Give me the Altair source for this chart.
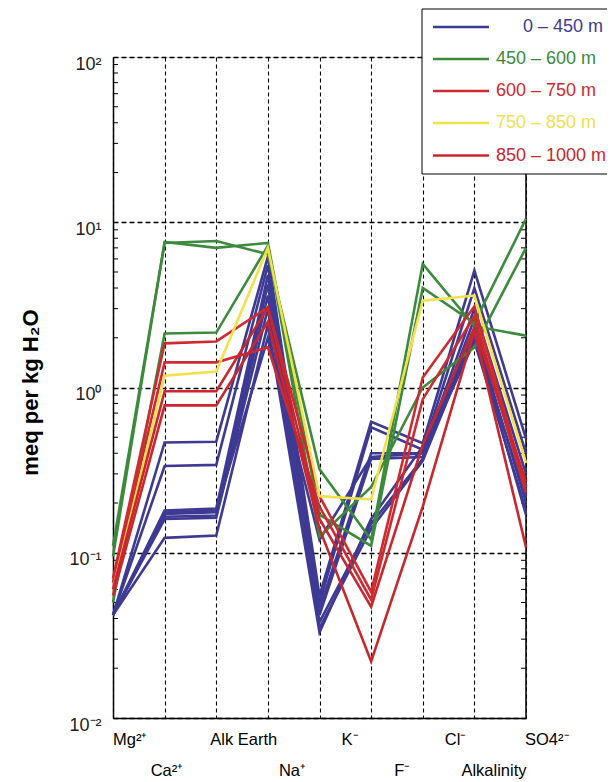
import altair as alt
import pandas as pd

categories = ["Mg", "Ca", "AlkEarth", "Na", "K", "F", "Cl", "Alk", "SO4"]

# 0 - 450 m (blue)
blue_1 = [0.042, 0.465, 0.47, 6.2, 0.055, 0.62, 0.46, 5.1, 0.49]
blue_2 = [0.042, 0.335, 0.34, 5.5, 0.050, 0.575, 0.42, 4.0, 0.40]
blue_3 = [0.042, 0.180, 0.185, 4.8, 0.046, 0.40, 0.40, 3.0, 0.30]
blue_4 = [0.042, 0.172, 0.176, 4.2, 0.042, 0.37, 0.38, 2.6, 0.24]
blue_5 = [0.042, 0.165, 0.168, 3.6, 0.038, 0.15, 0.37, 2.3, 0.20]
blue_6 = [0.042, 0.160, 0.163, 3.0, 0.035, 0.14, 0.36, 2.1, 0.17]
blue_7 = [0.042, 0.123, 0.127, 2.4, 0.033, 0.16, 0.44, 2.0, 0.22]
blue_8 = [0.042, 0.175, 0.180, 2.0, 0.120, 0.38, 0.40, 1.9, 0.18]

# 450 - 600 m (green)
green_1 = [0.11, 7.5, 7.7, 6.4, 0.32, 0.12, 5.6, 2.35, 2.06]
green_2 = [0.095, 7.6, 7.0, 7.5, 0.17, 0.11, 4.0, 2.45, 10.5]
green_3 = [0.05, 2.12, 2.15, 7.2, 0.125, 0.25, 1.0, 1.75, 7.0]

# 600 - 750 m (red)
red_1 = [0.07, 1.85, 1.9, 3.05, 0.22, 0.058, 1.15, 3.1, 0.25]
red_2 = [0.066, 1.42, 1.42, 1.75, 0.19, 0.052, 0.85, 2.7, 0.23]

# 750 - 850 m (yellow)
yellow_1 = [0.06, 1.18, 1.25, 7.0, 0.22, 0.21, 3.35, 3.6, 0.35]

# 850 - 1000 m (red)
red_3 = [0.06, 0.95, 0.95, 3.05, 0.16, 0.047, 0.45, 2.3, 0.27]
red_4 = [0.055, 0.78, 0.78, 2.5, 0.14, 0.022, 0.19, 2.2, 0.108]

groups = ["0 – 450 m", "450 – 600 m", "600 – 750 m", "750 – 850 m", "850 – 1000 m"]
group_colors = ["#3e3a94", "#3c8a3c", "#cf2a30", "#f3e04a", "#c9262d"]
group_lines = [
    [blue_1, blue_2, blue_3, blue_4, blue_5, blue_6, blue_7, blue_8],
    [green_1, green_2, green_3],
    [red_1, red_2],
    [yellow_1],
    [red_3, red_4],
]

row1_labels = ["Mg²⁺", "Alk Earth", "K⁻", "Cl⁻", "SO4²⁻"]
row1_cats = ["Mg", "AlkEarth", "K", "Cl", "SO4"]
row2_labels = ["Ca²⁺", "Na⁺", "F⁻", "Alkalinity"]
row2_cats = ["Ca", "Na", "F", "Alk"]

W, H = 413, 661
FONT = "Liberation Sans"

xscale = alt.Scale(domain=categories, type="point", padding=0)
yscale = alt.Scale(type="log", domain=[0.01, 100], nice=False)

label_expr = ("datum.value > 50 ? '10²' : datum.value > 5 ? '10¹' : datum.value > 0.5 ? '10⁰' : "
              "datum.value > 0.05 ? '10⁻¹' : '10⁻²'")

x_axis = alt.Axis(grid=True, gridDash=[4, 3], gridColor="black", gridWidth=1.1,
                  labels=False, ticks=False, title=None, domainColor="black", domainWidth=1.5)
y_axis = alt.Axis(values=[0.01, 0.1, 1, 10, 100], grid=True, gridDash=[5, 3], gridColor="black",
                  gridWidth=1.3, ticks=False, labelExpr=label_expr, labelFont=FONT, labelFontSize=18,
                  labelColor="#222", labelPadding=12, labelOffset=7, labelBaseline="middle",
                  domainColor="black", domainWidth=1.5,
                  title="meq per kg H₂O", titleFont=FONT, titleFontSize=22, titleFontWeight="bold",
                  titleColor="black", titleAngle=-90, titleX=-83, titleY=335,
                  titleAlign="center", titleBaseline="middle")

layers = []

# base axes layer (invisible)
base_df = pd.DataFrame({"cat": categories, "value": blue_1})
layers.append(alt.Chart(base_df).mark_point(opacity=0).encode(
    x=alt.X("cat:N", scale=xscale, axis=x_axis, sort=categories),
    y=alt.Y("value:Q", scale=yscale, axis=y_axis),
))

# minor ticks on left and right
tick_vals = []
for d in [0.01, 0.1, 1, 10]:
    for m in range(2, 10):
        tick_vals.append(d * m)
tick_df = pd.DataFrame({"value": tick_vals})
layers.append(alt.Chart(tick_df).mark_rule(color="black", strokeWidth=1).encode(
    y=alt.Y("value:Q", scale=yscale), x=alt.value(0), x2=alt.value(5)))
layers.append(alt.Chart(tick_df).mark_rule(color="black", strokeWidth=1).encode(
    y=alt.Y("value:Q", scale=yscale), x=alt.value(W - 5), x2=alt.value(W)))

# right border
layers.append(alt.Chart(pd.DataFrame({"a": [0]})).mark_rule(color="black", strokeWidth=1.5).encode(
    x=alt.value(W), y=alt.value(0), y2=alt.value(H)))

# data lines
for gi in range(len(groups)):
    rows = []
    for li, vals in enumerate(group_lines[gi]):
        for c, v in zip(categories, vals):
            rows.append({"cat": c, "value": v, "line": f"{gi}_{li}"})
    df = pd.DataFrame(rows)
    layers.append(alt.Chart(df).mark_line(strokeWidth=2.6, color=group_colors[gi],
                                          strokeJoin="miter").encode(
        x=alt.X("cat:N", scale=xscale, sort=categories),
        y=alt.Y("value:Q", scale=yscale),
        detail="line:N",
    ))

# x labels (two rows)
row1_dx = [0, -6, 22, 22, -1]
row2_dx = [-14, 11, 23, -13]
for lab, cat, dx in zip(row1_labels, row1_cats, row1_dx):
    layers.append(alt.Chart(pd.DataFrame({"cat": [cat], "t": [lab]})).mark_text(
        align="left", baseline="middle", font=FONT, fontSize=16.5, color="black", dx=dx).encode(
        x=alt.X("cat:N", scale=xscale, sort=categories), y=alt.value(H + 22), text="t:N"))
for lab, cat, dx in zip(row2_labels, row2_cats, row2_dx):
    layers.append(alt.Chart(pd.DataFrame({"cat": [cat], "t": [lab]})).mark_text(
        align="left", baseline="middle", font=FONT, fontSize=16.5, color="black", dx=dx).encode(
        x=alt.X("cat:N", scale=xscale, sort=categories), y=alt.value(H + 53), text="t:N"))

# legend box
one = pd.DataFrame({"a": [0]})
layers.append(alt.Chart(one).mark_rect(fill="white", stroke="black", strokeWidth=1).encode(
    x=alt.value(309), x2=alt.value(501), y=alt.value(-48), y2=alt.value(117)))
legend_y = [-30, 2, 34, 66, 98.5]
legend_tx = [410, 383, 383, 383, 383]
for g, col, ly, tx in zip(groups, group_colors, legend_y, legend_tx):
    layers.append(alt.Chart(one).mark_rule(color=col, strokeWidth=2.6).encode(
        x=alt.value(320), x2=alt.value(376), y=alt.value(ly)))
    layers.append(alt.Chart(pd.DataFrame({"t": [g]})).mark_text(
        align="left", baseline="middle", font=FONT, fontSize=18, color=col).encode(
        x=alt.value(tx), y=alt.value(ly), text="t:N"))

chart = alt.layer(*layers).properties(
    width=W, height=H,
    autosize=alt.AutoSizeParams(type="none"),
    padding={"left": 105, "top": 49, "right": 81, "bottom": 62},
).configure_view(stroke=None).configure(background="white")

chart.save("out.html", embed_options={"renderer": "svg", "actions": False})
